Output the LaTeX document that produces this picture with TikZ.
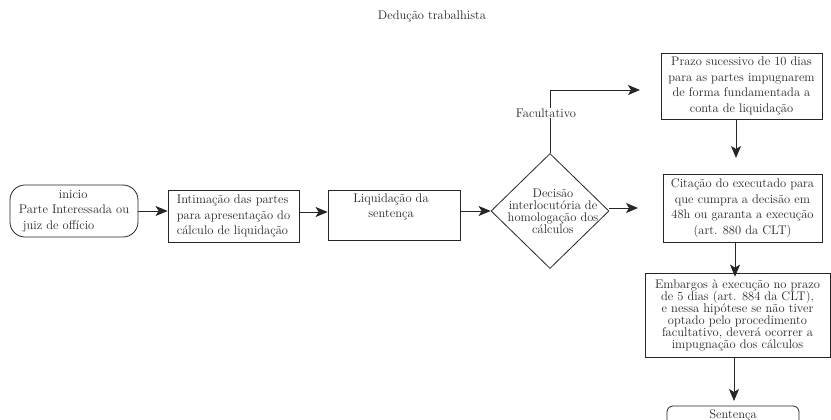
\documentclass[tikz,border=0pt]{standalone}
\usetikzlibrary{shapes.geometric,arrows.meta}
\begin{document}
\begin{tikzpicture}[x=1pt,y=-1pt,
  every node/.style={text=black!85},
  txt/.style={font=\fontsize{12.5}{15.5}\selectfont, inner sep=0, align=center},
  tighttxt/.style={font=\fontsize{12.5}{12}\selectfont, inner sep=0, align=center},
  box/.style={draw=black!85, line width=0.8pt, inner sep=0},
  arr/.style={draw=black!85, line width=0.8pt, -{Stealth[length=12pt,width=10pt,inset=3pt]}}
]
\useasboundingbox (0,0) rectangle (831,420);

\node[txt] (title) at (432,16) {Dedução trabalhista};

% start
\node[box, rounded corners=15pt, minimum width=128, minimum height=52, txt, align=left] (start) at (74,211)
  {\hspace*{40pt}inicio\\Parte Interessada ou\\\hspace*{4pt}juiz de offício};

% intimacao
\node[box, minimum width=131, minimum height=52, txt, align=left] (intim) at (233.5,216)
  {Intimação das partes\\para apresentação do\\cálculo de liquidação};

% liquidacao
\node[box, minimum width=132, minimum height=50] (liq) at (394,215) {};
\node[txt] (liqt) at (391,207) {Liquidação da\\sentença};

% diamond
\node[box, diamond, minimum width=118, minimum height=115] (dec) at (550,211) {};
\node[tighttxt] (dect) at (553,211) {Decisão\\interlocutória de\\homologação dos\\cálculos};

% prazo
\node[box, minimum width=161, minimum height=66, txt] (prazo) at (741.5,86)
  {Prazo sucessivo de 10 dias\\para as partes impugnarem\\de forma fundamentada a\\conta de liquidação};

% citacao
\node[box, minimum width=159, minimum height=68, txt] (cit) at (742.5,208)
  {Citação do executado para\\que cumpra a decisão em\\48h ou garanta a execução\\(art. 880 da CLT)};

% embargos
\node[box, minimum width=185, minimum height=84, tighttxt] (emb) at (737.5,315)
  {Embargos à execução no prazo\\de 5 dias (art. 884 da CLT),\\e nessa hipótese se não tiver\\optado pelo procedimento\\facultativo, deverá ocorrer a\\impugnação dos cálculos};

% sentenca
\node[box, rounded corners=6pt, minimum width=132, minimum height=40] (sent) at (733,426) {};
\node[txt] (sentt) at (733,415) {Sentença};

% free ends
\coordinate (c1) at (638,208);
\coordinate (c2) at (640,90);
\coordinate (c3) at (736,158);
\coordinate (vx) at (735,0);
\coordinate (c4) at (734,401);

% connectors
\draw[arr] (start.east) -- (start.east -| intim.west);
\draw[arr] ([yshift=4pt]intim.east) -- ([yshift=4pt]intim.east -| liq.west);
\draw[arr] (liq.east |- dec.west) -- (dec.west);
\draw[arr] (dec.east |- c1) -- (c1);
\draw[arr] (dec.north) |- (c2);
\node[txt, fill=white, inner sep=1pt] (fac) at (546,113) {Facultativo};
\draw[arr] (c3 |- prazo.south) -- (c3);
\draw[arr] (vx |- cit.south) -- ([yshift=-4pt]vx |- emb.north);
\draw[arr] (c4 |- emb.south) -- (c4);
\end{tikzpicture}
\end{document}
